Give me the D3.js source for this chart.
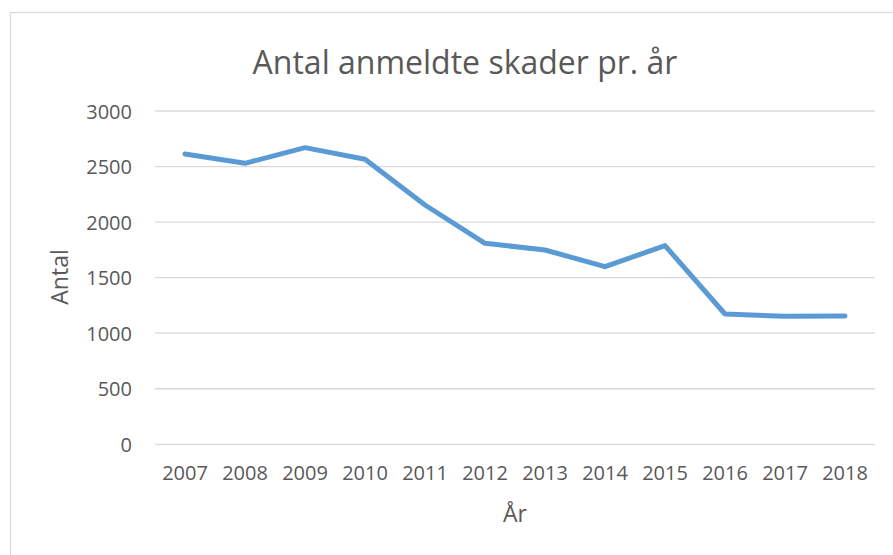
<!DOCTYPE html>
<html>
<head>
  <meta charset="utf-8">
  <style>
  body {
    margin: 0;
    background: #fff;
    font-family: "Open Sans", sans-serif;
  }
  .axis .domain, .axis .tick line {
    display: none;
  }
  .axis text {
    fill: #595959;
    font-family: "Open Sans", sans-serif;
    font-size: 20px;
  }
  .grid line {
    stroke: #d9d9d9;
    stroke-width: 1.3px;
  }
  </style>
</head>
<body>
  <div id="chart"></div>
  <script src="https://cdn.jsdelivr.net/npm/d3@7"></script>
  <script>
  var years = ["2007", "2008", "2009", "2010", "2011", "2012", "2013", "2014", "2015", "2016", "2017", "2018"];
  var counts = [2613, 2529, 2670, 2565, 2154, 1809, 1749, 1599, 1788, 1173, 1152, 1155];
  var yTicks = [0, 500, 1000, 1500, 2000, 2500, 3000];

  var W = 893, H = 555;
  var margin = {top: 111, right: 18, bottom: 110.7, left: 155};
  var width = W - margin.left - margin.right,
      height = H - margin.top - margin.bottom;

  var svg = d3.select("#chart").append("svg")
      .attr("width", W)
      .attr("height", H);

  // chart border (runs off the right and bottom edges)
  svg.append("rect")
      .attr("x", 10.5)
      .attr("y", 12.5)
      .attr("width", W + 20)
      .attr("height", H + 20)
      .attr("fill", "none")
      .attr("stroke", "#d9d9d9")
      .attr("stroke-width", 1.3);

  var g = svg.append("g")
      .attr("transform", "translate(" + margin.left + "," + margin.top + ")");

  var x = d3.scaleBand()
      .domain(years)
      .range([0, width]);

  var y = d3.scaleLinear()
      .domain([0, 3000])
      .range([height, 0]);

  g.append("g")
      .attr("class", "grid")
    .selectAll("line")
      .data(yTicks)
    .enter().append("line")
      .attr("x1", 0)
      .attr("x2", width)
      .attr("y1", function(d){ return y(d); })
      .attr("y2", function(d){ return y(d); });

  g.append("g")
      .attr("class", "y axis")
      .call(d3.axisLeft(y).tickValues(yTicks).tickFormat(d3.format("d")).tickSize(0).tickPadding(23))
      .selectAll("text")
      .attr("dy", "0.36em");

  g.append("g")
      .attr("class", "x axis")
      .attr("transform", "translate(0," + height + ")")
      .call(d3.axisBottom(x).tickSize(0).tickPadding(22))
      .selectAll("text")
      .attr("dy", "0.71em");

  var line = d3.line()
      .x(function(d, i){ return x(years[i]) + x.bandwidth() / 2; })
      .y(function(d){ return y(d); });

  g.append("path")
      .datum(counts)
      .attr("d", line)
      .attr("fill", "none")
      .attr("stroke", "#5b9bd5")
      .attr("stroke-width", 5)
      .attr("stroke-linejoin", "round")
      .attr("stroke-linecap", "round");

  // titles
  svg.append("text")
      .attr("x", 465)
      .attr("y", 74)
      .attr("text-anchor", "middle")
      .style("font-size", "32px")
      .style("fill", "#595959")
      .text("Antal anmeldte skader pr. år");

  svg.append("text")
      .attr("transform", "translate(68,277) rotate(-90)")
      .attr("text-anchor", "middle")
      .style("font-size", "23px")
      .style("fill", "#595959")
      .text("Antal");

  svg.append("text")
      .attr("x", margin.left + width / 2)
      .attr("y", 521.5)
      .attr("text-anchor", "middle")
      .style("font-size", "23px")
      .style("fill", "#595959")
      .text("År");
  </script>
</body>
</html>
